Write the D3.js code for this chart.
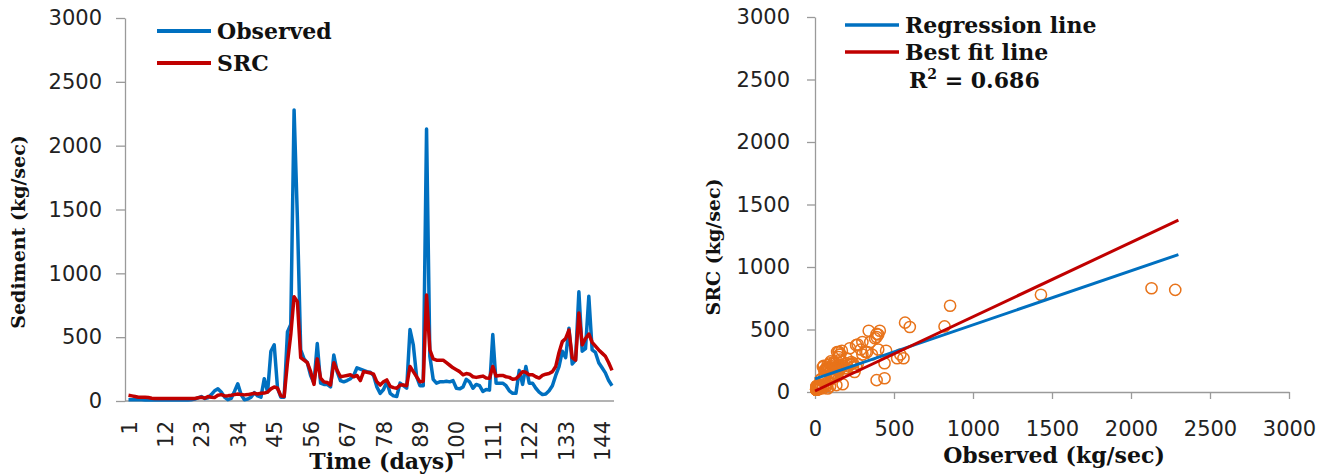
<!DOCTYPE html>
<html><head><meta charset="utf-8">
<script src="https://cdn.jsdelivr.net/npm/d3@7"></script>
<style>
body{margin:0;background:#fff}
svg{display:block;background:#fff}
.tick text{font-family:"DejaVu Sans",sans-serif;font-size:21px;fill:#222}
.ttl{font-family:"DejaVu Serif",serif;font-weight:bold;fill:#111}
</style>
</head><body>
<svg id="c" width="1331" height="474"></svg>
<script>
// ---------- data ----------
const days = d3.range(1, 148);
const timeTicks = [1,12,23,34,45,56,67,78,89,100,111,122,133,144];
const yTicks = [0,500,1000,1500,2000,2500,3000];
const xTicksR = [0,500,1000,1500,2000,2500,3000];

const observed = [
  10,10,10,10,10,8,8,8,8,8,
  8,8,8,8,8,8,8,8,8,10,
  15,25,35,20,25,50,80,95,70,30,
  10,20,75,135,50,10,15,30,65,40,
  30,175,70,390,440,100,30,30,540,600,
  2280,1430,400,330,300,200,140,450,140,130,
  130,110,360,230,160,150,160,175,200,260,
  250,240,230,225,200,110,60,90,150,60,
  40,35,140,120,100,560,440,190,120,120,
  2130,350,170,140,150,150,155,150,160,100,
  95,110,170,150,100,130,120,75,90,85,
  520,140,140,140,120,80,60,60,240,130,
  270,140,140,100,70,50,55,80,120,200,
  270,390,340,570,290,320,855,390,410,820,
  400,380,300,260,220,160,120
];
const src = [
  45,40,35,30,30,30,28,22,20,20,
  20,20,20,20,20,20,20,20,20,20,
  20,25,30,22,35,30,28,45,50,40,
  42,45,50,55,50,48,50,55,60,55,
  60,62,70,95,110,100,40,35,300,520,
  817,778,340,320,300,230,130,330,180,150,
  145,125,300,240,190,195,200,205,190,200,
  160,230,225,220,210,150,125,150,165,115,
  105,100,125,125,120,270,230,190,150,155,
  830,400,330,320,320,320,300,280,260,245,
  230,205,215,210,190,185,190,195,180,178,
  270,195,200,200,190,185,170,175,200,230,
  225,205,205,190,180,200,210,215,230,270,
  380,465,490,555,340,320,690,440,490,525,
  460,430,400,375,350,300,240
];
// fitted lines (observed -> SRC)
const lineX = [0, 2300];
const regressionY = [105, 1099];
const bestFitY = [8, 1375];
const r2 = "0.686";

// ---------- drawing ----------
const svg = d3.select("#c");
const BLUE = "#0070C0", RED = "#C00000", ORANGE = "#E8731A", AX = "#9a9a9a";
const fmt = d3.format("d");

function styleAxis(g){
  g.selectAll(".domain").attr("stroke", AX).attr("stroke-width", 1.3);
  g.selectAll(".tick line").attr("stroke", AX).attr("stroke-width", 1.3);
  g.attr("font-size", null).attr("font-family", null);
}

// ===== Left: time series =====
const xL = d3.scalePoint().domain(days).range([128.5, 612]);
const yL = d3.scaleLinear().domain([0, 3000]).range([401, 18]);

const gyL = svg.append("g").attr("transform", "translate(125,0)")
  .call(d3.axisLeft(yL).tickValues(yTicks).tickFormat(fmt).tickSize(9).tickSizeOuter(0).tickPadding(14));
styleAxis(gyL);

const gxL = svg.append("g").attr("transform", "translate(0,401)")
  .call(d3.axisBottom(xL).tickValues(timeTicks).tickSize(0).tickSizeOuter(0));
gxL.select(".domain").attr("d", "M125,0H614");
styleAxis(gxL);
gxL.selectAll(".tick text")
  .attr("transform", "rotate(-90)")
  .attr("text-anchor", "end")
  .attr("x", -20).attr("y", 0).attr("dy", "0.36em");

const lineL = d3.line().x((d, i) => xL(days[i])).y(d => yL(d));
svg.append("path").datum(observed).attr("d", lineL)
  .attr("fill", "none").attr("stroke", BLUE).attr("stroke-width", 3.5)
  .attr("stroke-linejoin", "round");
svg.append("path").datum(src).attr("d", lineL)
  .attr("fill", "none").attr("stroke", RED).attr("stroke-width", 3.5)
  .attr("stroke-linejoin", "round");

// legend left
const legL = [{t:"Observed", c:BLUE, y:31}, {t:"SRC", c:RED, y:63}];
legL.forEach(l => {
  svg.append("line").attr("x1", 157).attr("x2", 211).attr("y1", l.y).attr("y2", l.y)
    .attr("stroke", l.c).attr("stroke-width", 4);
  svg.append("text").attr("class", "ttl").attr("x", 217).attr("y", l.y + 8)
    .attr("font-size", 22).text(l.t);
});

svg.append("text").attr("class", "ttl").attr("font-size", 19)
  .attr("text-anchor", "middle")
  .attr("transform", "translate(18,232) rotate(-90)").attr("dy", "0.35em")
  .text("Sediment (kg/sec)");
svg.append("text").attr("class", "ttl").attr("font-size", 22)
  .attr("text-anchor", "middle").attr("x", 382).attr("y", 469)
  .text("Time (days)");

// ===== Right: scatter =====
const xR = d3.scaleLinear().domain([0, 3000]).range([815, 1289]);
const yR = d3.scaleLinear().domain([0, 3000]).range([392, 17]);

const gyR = svg.append("g").attr("transform", "translate(815,0)")
  .call(d3.axisLeft(yR).tickValues(yTicks).tickFormat(fmt).tickSize(8).tickSizeOuter(0).tickPadding(17));
styleAxis(gyR);
const gxR = svg.append("g").attr("transform", "translate(0,392)")
  .call(d3.axisBottom(xR).tickValues(xTicksR).tickFormat(fmt).tickSize(7).tickSizeOuter(0).tickPadding(22));
styleAxis(gxR);

const pairs = observed.map((o, i) => [o, src[i]]);
svg.append("g").selectAll("circle").data(pairs).join("circle")
  .attr("cx", d => xR(d[0])).attr("cy", d => yR(d[1])).attr("r", 5.6)
  .attr("fill", "none").attr("stroke", ORANGE).attr("stroke-width", 1.5);

const fitLine = d3.line().x((d, i) => xR(lineX[i])).y(d => yR(d));
svg.append("path").datum(regressionY).attr("d", fitLine)
  .attr("stroke", BLUE).attr("stroke-width", 3).attr("fill", "none");
svg.append("path").datum(bestFitY).attr("d", fitLine)
  .attr("stroke", RED).attr("stroke-width", 3).attr("fill", "none");

// legend right
const legR = [{t:"Regression line", c:BLUE, y:25}, {t:"Best fit line", c:RED, y:52}];
legR.forEach(l => {
  svg.append("line").attr("x1", 845).attr("x2", 899).attr("y1", l.y).attr("y2", l.y)
    .attr("stroke", l.c).attr("stroke-width", 3.5);
  svg.append("text").attr("class", "ttl").attr("x", 905).attr("y", l.y + 8)
    .attr("font-size", 22).text(l.t);
});
const rt = svg.append("text").attr("class", "ttl").attr("x", 909).attr("y", 88).attr("font-size", 22);
rt.append("tspan").text("R");
rt.append("tspan").attr("font-size", 14).attr("dy", -9).text("2");
rt.append("tspan").attr("dy", 9).text(" = " + r2);

svg.append("text").attr("class", "ttl").attr("font-size", 19)
  .attr("text-anchor", "middle")
  .attr("transform", "translate(713,247) rotate(-90)").attr("dy", "0.35em")
  .text("SRC (kg/sec)");
svg.append("text").attr("class", "ttl").attr("font-size", 22)
  .attr("text-anchor", "middle").attr("x", 1054).attr("y", 463)
  .text("Observed (kg/sec)");
</script>
</body></html>
